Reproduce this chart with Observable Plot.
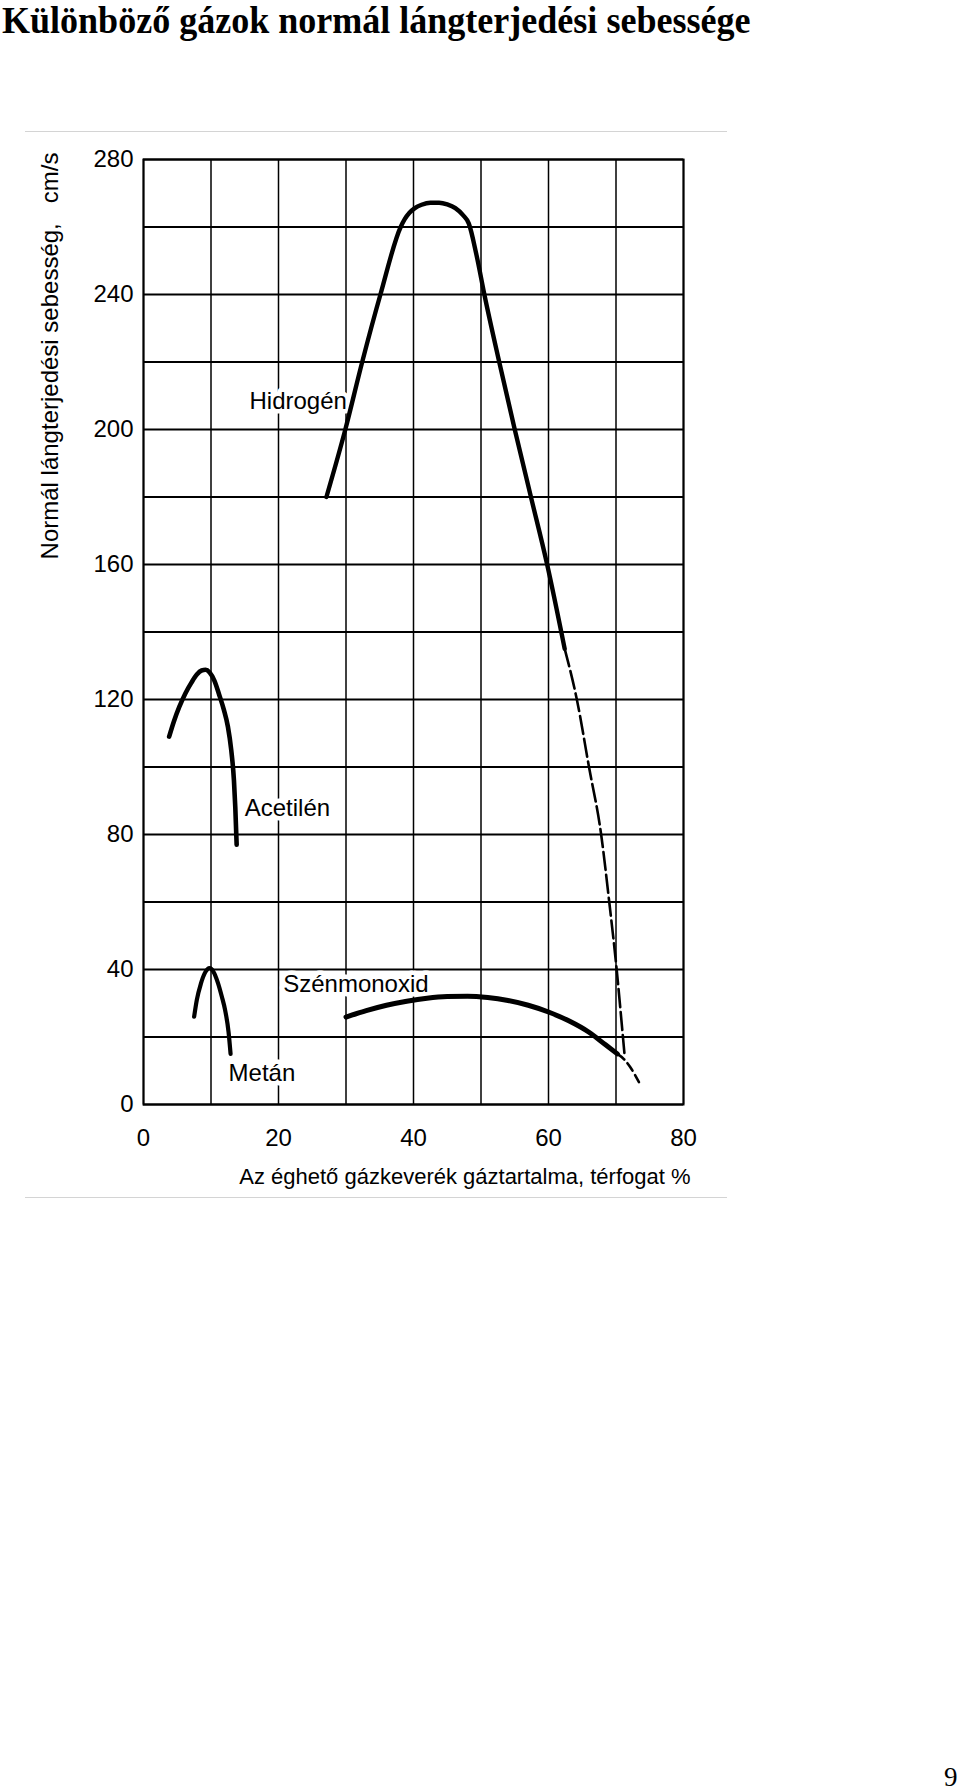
<!DOCTYPE html>
<html><head><meta charset="utf-8">
<script src="https://cdn.jsdelivr.net/npm/d3@7"></script>
<script src="https://cdn.jsdelivr.net/npm/@observablehq/plot@0.6"></script>
<style>
html,body{margin:0;padding:0;background:#fff;}
body{width:960px;height:1791px;position:relative;overflow:hidden;}
#title{position:absolute;left:2px;top:1px;font-family:"Liberation Serif","Times New Roman",serif;font-weight:bold;font-size:38px;line-height:1;white-space:nowrap;color:#000;transform:scaleX(0.948);transform-origin:0 0;}
#chart{position:absolute;left:0;top:50px;}
.rule{position:absolute;left:25px;width:702px;height:0;border-top:1.5px solid #d4d4d4;}
#page{position:absolute;left:944px;top:1764px;font-family:"Liberation Serif","Times New Roman",serif;font-size:27px;line-height:1;color:#000;}
</style></head>
<body>
<div id="title">Különböző gázok normál lángterjedési sebessége</div>
<div id="chart"></div>
<div class="rule" style="top:131px"></div>
<div class="rule" style="top:1197px"></div>
<div id="page">9</div>
<script>
// grid and tick values
const xGridTicks = [0, 10, 20, 30, 40, 50, 60, 70, 80];
const yGridTicks = [0, 20, 40, 60, 80, 100, 120, 140, 160, 180, 200, 220, 240, 260, 280];
const xTickLabels = [0, 20, 40, 60, 80];
const yTickLabels = [0, 40, 80, 120, 160, 200, 240, 280];

// series names
const seriesNames = ["Hidrogén", "Acetilén", "Szénmonoxid", "Metán"];

// Hidrogén (gas %, cm/s)
const hydrogenSolid = [[27.1,180],[29.9,200],[32.4,220],[35.1,240],[38.1,260],[38.7,262.3],[39.4,264.2],[40.2,265.6],[41.2,266.6],[42.5,267.2],[43.8,267.2],[45,266.7],[46.2,265.6],[47.3,263.6],[48.2,261],[49.3,252],[50.5,240],[52.7,220],[55,200],[57.4,180],[59.8,160],[62.4,135]];
const hydrogenDashed = [[62.4,135],[64.2,120],[66,100],[67.8,80],[69,60],[70.1,40],[70.8,25],[71.3,14]];
// Acetilén
const acetylene = [[3.8,109],[4.5,113.5],[5.3,117.8],[6.2,121.8],[7.1,125],[7.9,127.4],[8.6,128.6],[9.2,128.8],[9.8,128],[10.5,125.6],[11.2,121.5],[11.9,117],[12.5,112],[13.0,105],[13.4,96],[13.6,88],[13.8,77]];
// Metán
const methane = [[7.5,26],[7.9,31],[8.5,35.8],[9.1,39],[9.8,40.4],[10.4,39.2],[11.0,36.2],[11.6,32],[12.1,27.9],[12.6,21.5],[12.9,15]];
// Szénmonoxid
const coSolid = [[30,25.9],[33,27.8],[36,29.4],[39,30.6],[42,31.5],[45,32],[48,32.1],[51,31.7],[54,30.8],[57,29.4],[60,27.4],[63,24.8],[66,21.4],[68.5,17.6],[70.2,15]];
const coDashed = [[70.2,15],[71.2,13.4],[72.1,11.1],[73.4,6.6]];

const yTitle = "Normál lángterjedési sebesség,\u00a0\u00a0\u00a0cm/s";
const xTitle = "Az éghető gázkeverék gáztartalma, térfogat %";

const labelStyle = {fontSize: 24, fill: "#000", stroke: "#fff", strokeWidth: 9, textAnchor: "start", lineAnchor: "bottom", text: d => d};

const chart = Plot.plot({
  width: 960,
  height: 1150,
  marginTop: 109,
  marginBottom: 96,
  marginLeft: 143,
  marginRight: 277,
  x: {domain: [0, 80]},
  y: {domain: [0, 280]},
  style: {fontFamily: "'Liberation Sans', Arial, Helvetica, sans-serif", fontSize: "24px", color: "#000", background: "transparent"},
  marks: [
    Plot.gridX(xGridTicks, {stroke: "#000", strokeOpacity: 1, strokeWidth: 1.5}),
    Plot.gridY(yGridTicks, {stroke: "#000", strokeOpacity: 1, strokeWidth: 1.8}),
    Plot.frame({stroke: "#000", strokeWidth: 2}),
    Plot.axisY(yTickLabels, {tickSize: 0, tickPadding: 10, fontSize: 24, label: null}),
    Plot.axisX(xTickLabels, {tickSize: 0, tickPadding: 24, fontSize: 24, label: null}),
    Plot.text([yTitle], {frameAnchor: "left", rotate: -90, dx: -93, dy: -276, fontSize: 24, textAnchor: "middle", lineAnchor: "middle", text: d => d}),
    Plot.text([xTitle], {frameAnchor: "bottom-right", dx: 7, dy: 79, fontSize: 22, textAnchor: "end", lineAnchor: "bottom", text: d => d}),
    Plot.text([seriesNames[0]], {...labelStyle, x: 15.7, y: 206.2}),
    Plot.text([seriesNames[1]], {...labelStyle, x: 15.0, y: 85.6}),
    Plot.text([seriesNames[2]], {...labelStyle, x: 20.7, y: 33.3}),
    Plot.text([seriesNames[3]], {...labelStyle, x: 12.6, y: 7.1}),
    Plot.line(hydrogenSolid, {stroke: "#000", strokeWidth: 4.4, curve: "monotone-x"}),
    Plot.line(hydrogenDashed, {stroke: "#000", strokeWidth: 2.6, strokeDasharray: "18,5", curve: "monotone-x"}),
    Plot.line(acetylene, {stroke: "#000", strokeWidth: 4.6, curve: "monotone-x"}),
    Plot.line(methane, {stroke: "#000", strokeWidth: 4.2, curve: "monotone-x"}),
    Plot.line(coSolid, {stroke: "#000", strokeWidth: 5, curve: "monotone-x"}),
    Plot.line(coDashed, {stroke: "#000", strokeWidth: 2.6, strokeDasharray: "9,5", curve: "monotone-x"})
  ]
});
document.getElementById("chart").appendChild(chart);
</script>
</body></html>
